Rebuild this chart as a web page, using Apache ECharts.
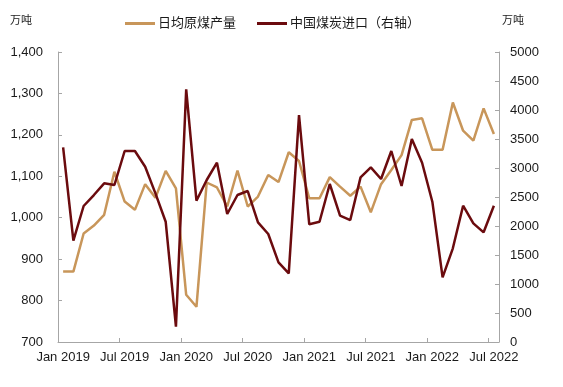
<!DOCTYPE html>
<html>
<head>
<meta charset="utf-8">
<script src="https://cdn.jsdelivr.net/npm/echarts@6/dist/echarts.min.js"></script>
<style>html,body{margin:0;padding:0;background:#fff}#c{width:563px;height:387px}</style>
</head>
<body>
<div id="c"></div>
<script>
var categories = [
 "Jan 2019","Feb 2019","Mar 2019","Apr 2019","May 2019","Jun 2019","Jul 2019","Aug 2019","Sep 2019","Oct 2019","Nov 2019","Dec 2019",
 "Jan 2020","Feb 2020","Mar 2020","Apr 2020","May 2020","Jun 2020","Jul 2020","Aug 2020","Sep 2020","Oct 2020","Nov 2020","Dec 2020",
 "Jan 2021","Feb 2021","Mar 2021","Apr 2021","May 2021","Jun 2021","Jul 2021","Aug 2021","Sep 2021","Oct 2021","Nov 2021","Dec 2021",
 "Jan 2022","Feb 2022","Mar 2022","Apr 2022","May 2022","Jun 2022","Jul 2022"
];
var productionName = "日均原煤产量";
var importName = "中国煤炭进口（右轴）";
var production = [
 870,870,962,981,1007,1111,1039,1019,1081,1048,1113,1071,
 814,785,1085,1073,1027,1114,1027,1051,1103,1086,1158,1137,
 1047,1047,1098,1075,1053,1075,1013,1081,1115,1151,1236,1240,
 1164,1164,1278,1210,1186,1264,1202
];
var imports = [
 3356,1747,2345,2534,2736,2707,3293,3293,3022,2563,2074,264,
 4357,2436,2793,3091,2207,2534,2603,2063,1862,1373,1183,3913,
 2029,2074,2724,2178,2103,2839,3011,2810,3293,2690,3500,3091,
 2419,1115,1615,2350,2046,1891,2350
];
var unitLeft = "万吨", unitRight = "万吨";

var font = "Liberation Sans, Arial, Noto Sans CJK SC, sans-serif";
var axisColor = "#a6a6a6";
var txt = "#1a1a1a";
var chart = echarts.init(document.getElementById('c'), null, {renderer:'canvas'});
chart.setOption({
  animation:false,
  textStyle:{fontFamily:font},
  grid:{left:58,right:64,top:52,bottom:45,containLabel:false},
  legend:{
    left:120, top:12, itemWidth:30, itemHeight:3, itemGap:21, icon:'rect',
    textStyle:{fontSize:13,color:txt,fontFamily:font,padding:[0,0,0,-2]},
    data:[productionName, importName]
  },
  graphic:[
    {type:'text',left:10,top:15,style:{text:unitLeft,font:'11px '+font,fill:txt}},
    {type:'text',left:502,top:15,style:{text:unitRight,font:'11px '+font,fill:txt}}
  ],
  xAxis:{
    type:'category', data:categories, boundaryGap:true,
    axisLine:{lineStyle:{color:axisColor,width:1}},
    axisTick:{show:true,inside:true,length:4,interval:5,alignWithLabel:false,lineStyle:{color:axisColor}},
    axisLabel:{interval:5,color:txt,fontSize:13,margin:9,fontFamily:font}
  },
  yAxis:[
    {type:'value',min:700,max:1400,interval:100,position:'left',
     splitLine:{show:false},
     axisLine:{show:true,lineStyle:{color:axisColor}},
     axisTick:{show:true,inside:true,length:4,lineStyle:{color:axisColor}},
     axisLabel:{color:txt,fontSize:13,margin:15,fontFamily:font,
       formatter:function(v){return v.toLocaleString('en-US');}}},
    {type:'value',min:0,max:5000,interval:500,position:'right',
     splitLine:{show:false},
     axisLine:{show:true,lineStyle:{color:axisColor}},
     axisTick:{show:true,inside:true,length:4,lineStyle:{color:axisColor}},
     axisLabel:{color:txt,fontSize:13,margin:11,fontFamily:font,
       formatter:function(v){return String(v);}}}
  ],
  series:[
    {name:productionName,type:'line',yAxisIndex:0,data:production,symbol:'none',
     lineStyle:{color:'#C8965A',width:2.5},itemStyle:{color:'#C8965A'}},
    {name:importName,type:'line',yAxisIndex:1,data:imports,symbol:'none',
     lineStyle:{color:'#6B0B0E',width:2.5},itemStyle:{color:'#6B0B0E'}}
  ]
});
</script>
</body>
</html>
